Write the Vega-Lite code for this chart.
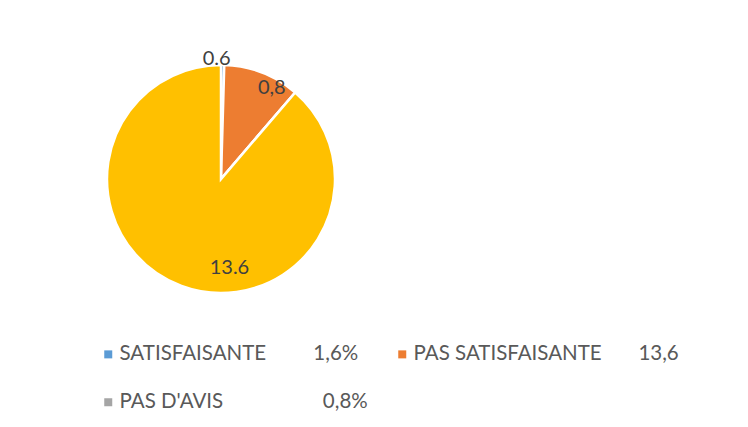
{
  "$schema": "https://vega.github.io/schema/vega-lite/v6.json",
  "width": 442,
  "height": 358,
  "padding": 0,
  "background": "white",
  "config": {
    "view": {"stroke": null},
    "font": "Lato",
    "legend": {
      "orient": "none",
      "legendX": 98,
      "legendY": 344,
      "columns": 2,
      "padding": 0,
      "columnPadding": 24,
      "rowPadding": 27,
      "symbolType": "square",
      "symbolSize": 64,
      "symbolStrokeWidth": 0,
      "labelFont": "Lato",
      "labelFontSize": 20.5,
      "labelColor": "#595959",
      "labelOffset": 1,
      "labelLimit": 0,
      "title": null
    }
  },
  "data": {
    "values": [
      {"categorie": "SATISFAISANTE\u00a0\u00a0\u00a0\u00a0\u00a0\u00a0\u00a0\u00a0\u00a01,6%", "part": 0.07, "etiquette": "0.6", "rang": 1},
      {"categorie": "PAS SATISFAISANTE\u00a0\u00a0\u00a0\u00a0\u00a0\u00a0\u00a013,6", "part": 1.66, "etiquette": "0,8", "rang": 2},
      {"categorie": "PAS D'AVIS\u00a0\u00a0\u00a0\u00a0\u00a0\u00a0\u00a0\u00a0\u00a0\u00a0\u00a0\u00a0\u00a0\u00a0\u00a0\u00a0\u00a0\u00a0\u00a00,8%", "part": 0, "etiquette": "", "rang": 3},
      {"categorie": "AUTRE", "part": 13.6, "etiquette": "13.6", "rang": 4}
    ]
  },
  "encoding": {
    "theta": {"field": "part", "type": "quantitative", "stack": true},
    "order": {"field": "rang", "type": "quantitative"}
  },
  "layer": [
    {
      "mark": {"type": "arc", "outerRadius": 114, "stroke": "white", "strokeWidth": 2.5},
      "encoding": {
        "color": {
          "field": "categorie",
          "type": "nominal",
          "scale": {
            "domain": [
              "SATISFAISANTE\u00a0\u00a0\u00a0\u00a0\u00a0\u00a0\u00a0\u00a0\u00a01,6%",
              "PAS SATISFAISANTE\u00a0\u00a0\u00a0\u00a0\u00a0\u00a0\u00a013,6",
              "PAS D'AVIS\u00a0\u00a0\u00a0\u00a0\u00a0\u00a0\u00a0\u00a0\u00a0\u00a0\u00a0\u00a0\u00a0\u00a0\u00a0\u00a0\u00a0\u00a0\u00a00,8%",
              "AUTRE"
            ],
            "range": ["#5B9BD5", "#ED7D31", "#A5A5A5", "#FFC000"]
          },
          "legend": {
            "values": [
              "SATISFAISANTE\u00a0\u00a0\u00a0\u00a0\u00a0\u00a0\u00a0\u00a0\u00a01,6%",
              "PAS D'AVIS\u00a0\u00a0\u00a0\u00a0\u00a0\u00a0\u00a0\u00a0\u00a0\u00a0\u00a0\u00a0\u00a0\u00a0\u00a0\u00a0\u00a0\u00a0\u00a00,8%",
              "PAS SATISFAISANTE\u00a0\u00a0\u00a0\u00a0\u00a0\u00a0\u00a013,6"
            ]
          }
        }
      }
    },
    {
      "mark": {"type": "text", "radius": 120, "dx": -6, "dy": 0, "fontSize": 20, "color": "#404040", "font": "Lato", "baseline": "middle", "align": "center"},
      "encoding": {
        "text": {"condition": {"test": "datum.rang === 1", "field": "etiquette"}, "value": ""}
      }
    },
    {
      "mark": {"type": "text", "radius": 102, "dx": 14, "dy": 4, "fontSize": 20, "color": "#404040", "font": "Lato", "baseline": "middle", "align": "center"},
      "encoding": {
        "text": {"condition": {"test": "datum.rang === 2", "field": "etiquette"}, "value": ""}
      }
    },
    {
      "mark": {"type": "text", "radius": 88, "dx": 39, "dy": 6, "fontSize": 20, "color": "#404040", "font": "Lato", "baseline": "middle", "align": "center"},
      "encoding": {
        "text": {"condition": {"test": "datum.rang === 4", "field": "etiquette"}, "value": ""}
      }
    }
  ]
}
